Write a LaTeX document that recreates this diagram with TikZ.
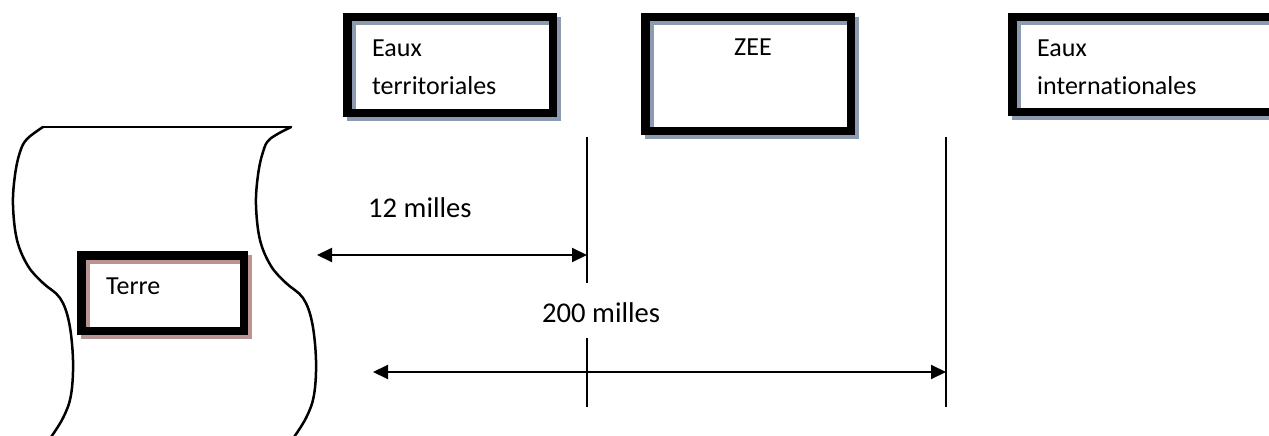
\documentclass[tikz,border=0pt]{standalone}
\usepackage{fontspec}
\setmainfont{Carlito}[Ligatures=NoCommon]
\usetikzlibrary{arrows.meta}
\definecolor{shA}{RGB}{141,155,176}
\definecolor{shB}{RGB}{184,148,148}
\tikzset{
  zone/.style={draw=black, line width=8.5pt, inner sep=0pt, outer sep=0pt, anchor=north west},
  zoneshadow/.style={draw=#1, line width=8.5pt},
  lbl/.style={inner sep=0pt, anchor=base west, font=\fontsize{26}{38}\selectfont},
  dimlbl/.style={lbl, font=\fontsize{28.6}{38}\selectfont},
  vline/.style={line width=1.6pt, black},
  dim/.style={line width=2pt, black, {Triangle[length=15pt,width=14pt]}-{Triangle[length=15pt,width=14pt]}},
  land/.style={line width=2.5pt, black, line cap=round, line join=round}
}
\begin{document}
\begin{tikzpicture}[x=1pt,y=-1pt]
\path[use as bounding box] (0,0) rectangle (1269,436);
\clip (0,0) rectangle (1269,436);

% land outline
\draw[land] plot[smooth, tension=0.6] coordinates {(43,127) (27,139) (20,152) (15,175) (13,205) (17,240) (28,266) (43,283) (60,298) (69,322) (73,360) (71,395) (63,418) (49,440)};
\draw[land] plot[smooth, tension=0.6] coordinates {(291,127) (270,139) (263,152) (258,175) (256,205) (260,240) (271,266) (286,283) (303,298) (312,322) (316,360) (314,395) (306,418) (292,440)};
\draw[land] (43,127) -- (291,127);

% boxes: shadows first, then black frames
\node[zone, draw=none, minimum width=205.5pt, minimum height=95.5pt] (b1) at (347.25,17.25) {};
\node[zone, draw=none, minimum width=205.5pt, minimum height=113.5pt] (b2) at (645.25,17.25) {};
\node[zone, draw=none, minimum width=300pt, minimum height=94.5pt] (b3) at (1012.25,17.25) {};
\node[zone, draw=none, minimum width=162.5pt, minimum height=75.5pt] (b4) at (81.25,255.25) {};
\draw[zoneshadow=shA] ([shift={(4pt,-4pt)}]b1.north west) rectangle ([shift={(4pt,-4pt)}]b1.south east);
\draw[zoneshadow=shA] ([shift={(4pt,-4pt)}]b2.north west) rectangle ([shift={(4pt,-4pt)}]b2.south east);
\draw[zoneshadow=shA] ([shift={(4pt,-4pt)}]b3.north west) rectangle ([shift={(4pt,-4pt)}]b3.south east);
\draw[zoneshadow=shB] ([shift={(4pt,-4pt)}]b4.north west) rectangle ([shift={(4pt,-4pt)}]b4.south east);
\draw[line width=8.5pt] (b1.north west) rectangle (b1.south east);
\draw[line width=8.5pt] (b2.north west) rectangle (b2.south east);
\draw[line width=8.5pt] (b3.north west) rectangle (b3.south east);
\draw[line width=8.5pt] (b4.north west) rectangle (b4.south east);

% box texts
\node[lbl] (t1) at (372,57) {\begin{tabular}[t]{@{}l@{}}Eaux\\territoriales\end{tabular}};
\node[lbl] (t2) at (734,56) {ZEE};
\node[lbl] (t3) at (1037,57) {\begin{tabular}[t]{@{}l@{}}Eaux\\internationales\end{tabular}};
\node[lbl] (t4) at (106,294) {Terre};

% limits
\coordinate (v1t) at (587,137);
\coordinate (v1b) at (587,407);
\coordinate (v2t) at (946,137);
\coordinate (v2b) at (946,407);
\draw[vline] (v1t) -- (v1b);
\draw[vline] (v2t) -- (v2b);

% distances
\coordinate (a1) at (317,255);
\coordinate (a2) at (373,372);
\draw[dim] (a1) -- (a1 -| v1t);
\draw[dim] (a2) -- (a2 -| v2t);
\node[dimlbl] (d1) at (368,217) {12 milles};
\node[dimlbl, fill=white, text height=39pt, text depth=16pt] (d2) at (542,322) {200 milles};
\end{tikzpicture}
\end{document}
